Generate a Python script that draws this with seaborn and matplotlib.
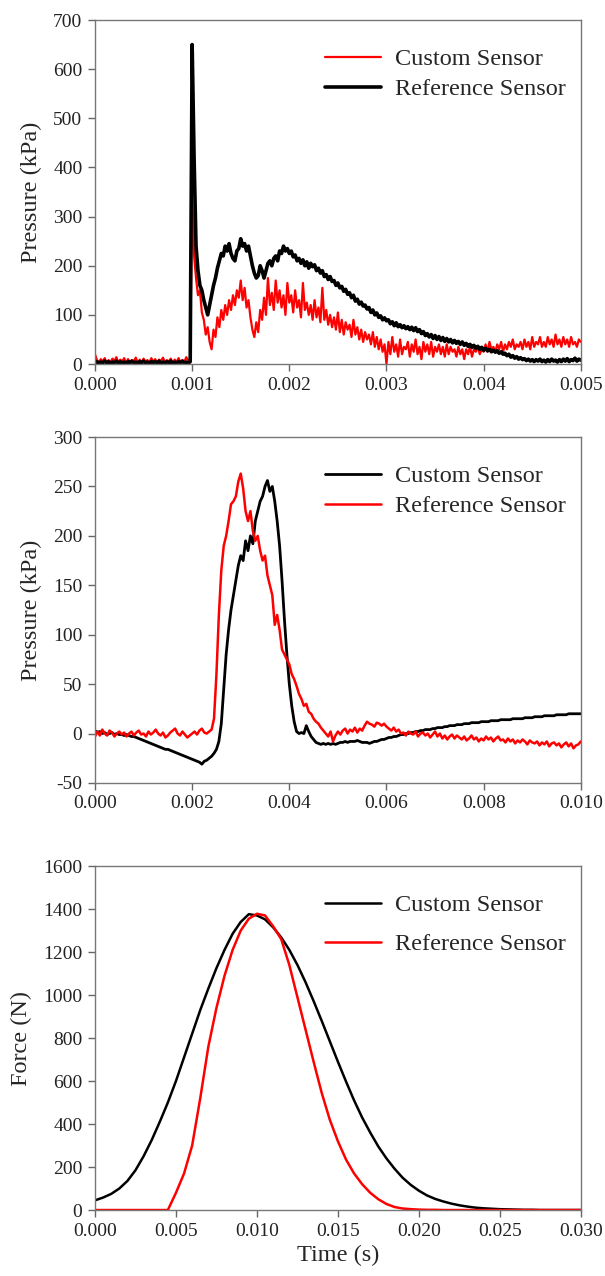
import numpy as np
import pandas as pd
import seaborn as sns
import matplotlib.pyplot as plt

# Panel 1: pressure, 0 - 0.005 s (sampled every 20 us)
t1 = np.linspace(0, 0.005, 251)
p1_custom = [
    20, 8, 3, 10, 5, 12, 2, 8, 4, 11, 6, 14, 3, 9, 5, 12, 2, 10, 4, 8,
    6, 13, 3, 9, 2, 11, 5, 8, 3, 12, 4, 10, 2, 9, 6, 13, 3, 8, 5, 11,
    2, 9, 4, 12, 3, 8, 5, 14, 6, 10,
    350, 220, 175, 140, 150, 105, 90, 60, 75, 45,
    30, 70, 55, 95, 75, 110, 90, 120, 100, 130,
    110, 140, 120, 150, 135, 170, 130, 155, 115, 130,
    95, 70, 55, 85, 65, 110, 90, 135, 100, 175,
    120, 145, 110, 170, 125, 150, 115, 140, 100, 165,
    125, 140, 105, 150, 115, 130, 95, 165, 110, 125, 100,
    120, 90, 130, 95, 115, 85, 155, 90, 110, 80,
    100, 75, 95, 70, 105, 65, 90, 60, 85, 70,
    80, 55, 90, 60, 75, 50, 70, 45, 65, 50,
    60, 40, 65, 35, 55, 30, 50, 25, 40, 0,
    45, 20, 55, 25, 40, 15, 50, 20, 35, 30,
    45, 15, 40, 25, 50, 20, 35, 10, 45, 25,
    40, 20, 45, 15, 35, 25, 40, 20, 35, 15,
    40, 20, 35, 25, 30, 15, 35, 20, 30, 10,
    30, 20, 35, 15, 30, 25, 35, 20, 30, 25,
    40, 25, 45, 30, 35, 25, 40, 30, 45, 25,
    40, 30, 45, 35, 50, 30, 40, 35, 45, 30,
    50, 35, 45, 30, 55, 35, 45, 40, 55, 35,
    45, 35, 55, 40, 50, 35, 60, 40, 50, 35,
    55, 40, 50, 35, 55, 40, 45, 35, 50, 45,
]
p1_reference = [
    2, 5, 1, 4, 3, 6, 2, 5, 1, 4, 3, 6, 2, 5, 2, 4, 1, 5, 3, 6,
    2, 4, 1, 5, 3, 6, 2, 4, 1, 5, 3, 5, 2, 6, 1, 4, 2, 5, 3, 6,
    1, 4, 2, 5, 3, 6, 2, 4, 1, 5,
    650, 420, 240, 190, 160, 150, 130, 115, 100, 120,
    140, 160, 175, 195, 210, 225, 220, 240, 230, 245,
    225, 215, 210, 230, 235, 255, 240, 245, 230, 240,
    220, 200, 185, 175, 180, 200, 190, 175, 190, 205,
    210, 200, 215, 220, 210, 230, 225, 240, 230, 235,
    225, 230, 218, 222, 210, 215, 205, 212, 200, 208, 195,
    205, 198, 202, 190, 195, 185, 190, 178, 182, 172,
    178, 168, 170, 160, 165, 155, 158, 148, 152, 142,
    145, 135, 140, 128, 132, 122, 126, 118, 120, 112,
    115, 105, 110, 100, 104, 95, 98, 90, 94, 88,
    90, 82, 86, 78, 84, 76, 80, 74, 78, 72,
    76, 70, 75, 68, 74, 66, 70, 62, 66, 58,
    62, 55, 60, 52, 58, 50, 56, 48, 54, 46,
    52, 45, 50, 43, 48, 42, 46, 40, 45, 38,
    42, 36, 40, 34, 38, 32, 36, 30, 34, 28,
    32, 27, 30, 25, 28, 24, 27, 22, 25, 20,
    22, 17, 20, 14, 17, 12, 15, 10, 13, 9,
    11, 7, 10, 6, 9, 5, 9, 6, 10, 5,
    8, 4, 9, 5, 10, 6, 8, 4, 9, 5,
    10, 6, 11, 5, 9, 7, 12, 6, 10, 8,
]

# Panel 2: pressure, 0 - 0.01 s (sampled every 50 us)
t2 = np.linspace(0, 0.01, 201)
p2_custom = [
    3, 1, 2, 0, 1, -1, 0, 1, -1, 0, -1, -1, -2, -1, -2, -3, -3,
    -4, -5, -6, -7, -8, -9, -10, -11, -12, -13, -14, -15, -16, -16,
    -17, -18, -19, -20, -21, -22, -23, -24, -25, -26, -27, -28, -29, -31,
    -28, -27, -25, -23, -20, -16, -8, 10, 45, 80,
    105, 125, 140, 155, 170, 180, 175, 195, 185, 200,
    192, 215, 225, 235, 240, 250, 256, 245, 250, 235,
    215, 190, 155, 115, 80, 50, 28, 12, 2, 0,
    1, 0, 8, 2, -3, -6, -9, -10, -11, -10,
    -11, -10, -11, -10, -11, -10,
    -9, -9, -8, -9, -8, -8, -8, -7, -8, -9,
    -9, -9, -10, -9, -8, -8, -7, -6, -6, -5,
    -4, -4, -3, -3, -2, -1, -1, 0, 0, 1,
    1, 2, 2, 3, 3, 4, 4, 4, 5, 5,
    6, 6, 6, 7, 7, 8, 8, 8, 9, 9,
    9, 10, 10, 10, 11, 11, 11, 11, 12, 12,
    12, 12, 13, 13, 13, 13, 14, 14, 14, 14,
    14, 15, 15, 15, 15, 15, 16, 16, 16, 16,
    17, 17, 17, 17, 18, 18, 18, 18, 18, 19,
    19, 19, 19, 19, 20, 20, 20, 20, 20, 20,
]
p2_reference = [
    -3, 2, -2, 4, 0, -2, 3, 1, -3, 0, 2, -1, 1, -3, 0, 2, -2, 1, 3, -1,
    0, -3, 2, -1, 1, 4, 0, -2, 1, -4, -2, 1, 3, 5, 0, -2, 2, -1, -4, -2,
    0, 2, -1, 3, 5, 1, 0, 2, 4,
    15, 60, 120, 165, 190, 200, 215, 232, 235, 240, 255,
    263, 248, 225, 215, 225, 205, 195, 200, 185, 175,
    180, 160, 150, 140, 110, 120, 105, 85, 80, 75,
    70, 60, 55, 48, 40, 35, 28, 30, 22, 20,
    15, 12, 10, 6, 3, 0, -3, 2, -8, -2, 2,
    -1, 3, 5, 0, 4, 2, 6, 1, 5, 3,
    8, 12, 10, 9, 7, 11, 10, 8, 10, 7,
    5, 3, 6, 2, 4, 0, 1, -2, 2, 0,
    -1, 2, -3, 0, 1, -2, 0, -4, -1, 2,
    -3, 0, -5, -2, -6, -3, -1, -5, -2, -4,
    -6, -3, -7, -5, -2, -6, -4, -8, -5, -7,
    -3, -6, -4, -8, -5, -3, -7, -6, -9, -5,
    -8, -6, -10, -7, -9, -6, -8, -11, -7, -9,
    -10, -8, -12, -9, -11, -8, -13, -10, -9, -12,
    -10, -14, -11, -9, -13, -10, -15, -12, -11, -8,
]

# Panel 3: force, 0 - 0.03 s (every 0.5 ms)
t3 = np.linspace(0, 0.03, 61)
f3_custom = [
    45, 58, 75, 100, 135, 185, 250, 325, 410, 500,
    600, 710, 820, 930, 1030, 1125, 1210, 1285, 1340, 1376,
    1370, 1352, 1315, 1268, 1210, 1140, 1060, 972, 880, 785,
    690, 598, 510, 430, 360, 295, 240, 192, 150, 117,
    90, 68, 52, 40, 30, 22, 16, 11, 8, 6,
    4, 3, 2, 1, 1, 0, 0, 0, 0, 0, 0,
]
f3_reference = [
    0, 0, 0, 0, 0, 0, 0, 0, 0, 0,
    80, 170, 300, 520, 760, 940, 1090, 1210, 1300, 1355,
    1378, 1370, 1320, 1260, 1140, 990, 840, 690, 545, 420,
    320, 235, 170, 120, 80, 50, 28, 14, 7, 4,
    2, 1, 1, 0, 0, 0, 0, 0, 0, 0,
    0, 0, 0, 0, 0, 0, 0, 0, 0, 0, 0,
]

sns.set_style("ticks")
plt.rcParams['font.family'] = ['Liberation Serif', 'DejaVu Serif']

fig = plt.figure(figsize=(6.05, 12.76), dpi=100)
ax1 = fig.add_axes([0.157, 0.7147, 0.803, 0.2696])
ax2 = fig.add_axes([0.157, 0.3864, 0.803, 0.2711])
ax3 = fig.add_axes([0.157, 0.0517, 0.803, 0.2696])

sns.lineplot(x=t1, y=p1_custom, color='red', lw=1.6, label='Custom Sensor', ax=ax1)
sns.lineplot(x=t1, y=p1_reference, color='black', lw=2.6, label='Reference Sensor', ax=ax1)
sns.lineplot(x=t2, y=p2_custom, color='black', lw=2.0, label='Custom Sensor', ax=ax2)
sns.lineplot(x=t2, y=p2_reference, color='red', lw=1.8, label='Reference Sensor', ax=ax2)
sns.lineplot(x=t3, y=f3_custom, color='black', lw=1.8, label='Custom Sensor', ax=ax3)
sns.lineplot(x=t3, y=f3_reference, color='red', lw=1.8, label='Reference Sensor', ax=ax3)

ax1.set_xlim(0, 0.005)
ax1.set_ylim(0, 700)
ax1.set_xticks(np.arange(0, 0.0051, 0.001))
ax1.set_yticks(np.arange(0, 701, 100))
ax2.set_xlim(0, 0.01)
ax2.set_ylim(-50, 300)
ax2.set_xticks(np.arange(0, 0.0101, 0.002))
ax2.set_yticks(np.arange(-50, 301, 50))
ax3.set_xlim(0, 0.03)
ax3.set_ylim(0, 1600)
ax3.set_xticks(np.arange(0, 0.0301, 0.005))
ax3.set_yticks(np.arange(0, 1601, 200))

ax1.set_ylabel('Pressure (kPa)', fontsize=17.5, labelpad=8)
ax2.set_ylabel('Pressure (kPa)', fontsize=17.5, labelpad=8)
ax3.set_ylabel('Force (N)', fontsize=17.5, labelpad=8)
ax3.set_xlabel('Time (s)', fontsize=17.5, labelpad=4)

for ax, spacing in [(ax1, 0.32), (ax2, 0.32), (ax3, 0.7)]:
    ax.xaxis.set_major_formatter(plt.FormatStrFormatter('%.3f'))
    ax.yaxis.set_major_formatter(plt.FormatStrFormatter('%d'))
    ax.tick_params(direction='out', length=5, width=1, color='#666666',
                   labelsize=14, labelcolor='#222222', pad=4)
    for s in ax.spines.values():
        s.set_color('#777777')
        s.set_linewidth(1.0)
    ax.legend(loc='upper right', bbox_to_anchor=(1.0, 0.96), frameon=False,
              fontsize=17.5, handlelength=2.3, handletextpad=0.6,
              labelspacing=spacing, borderaxespad=0.2)

plt.savefig('out.png', dpi=100)
